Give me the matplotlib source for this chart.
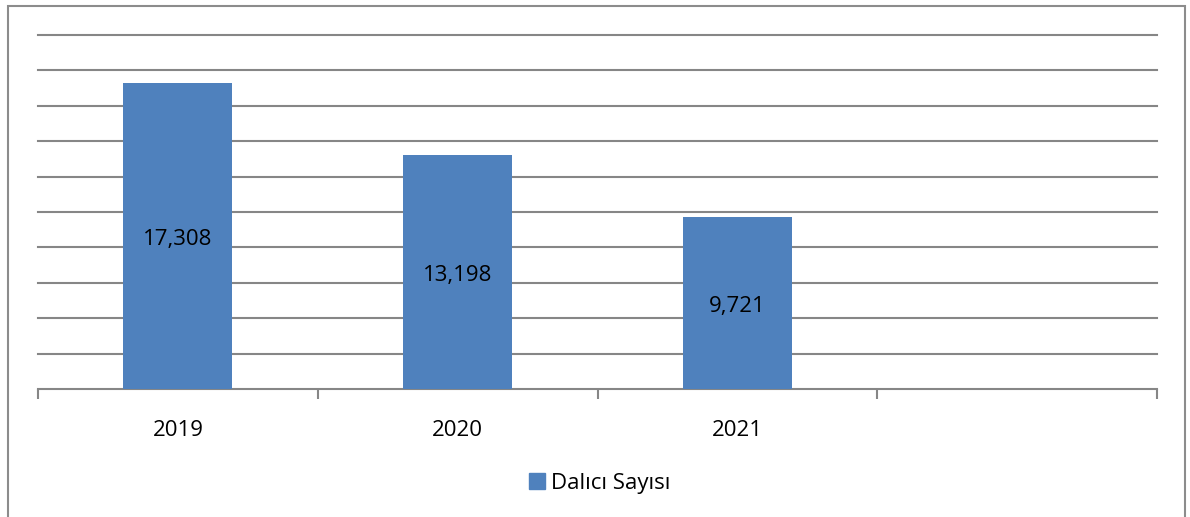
import matplotlib.pyplot as plt
from matplotlib.patches import Rectangle, Patch

years = ['2019', '2020', '2021', '']
divers = [17308, 13198, 9721, None]
labels = ['17,308', '13,198', '9,721']

plt.rcParams['font.family'] = ['Open Sans', 'DejaVu Sans']

fig = plt.figure(figsize=(11.9, 5.17), dpi=100)
ax = fig.add_axes([38/1190, 128/517, 1119/1190, 354/517])

blue = '#4f81bd'
grid = '#868686'

x = list(range(len(years)))
vals = [v for v in divers if v is not None]
bars = ax.bar(x[:len(vals)], vals, width=0.39, color=blue, zorder=3)
for b, lab in zip(bars, labels):
    ax.text(b.get_x() + b.get_width()/2, b.get_height()/2 - 200, lab,
            ha='center', va='center', fontsize=16, color='black', zorder=4)

ax.set_xlim(-0.5, 3.5)
ax.set_ylim(0, 20000)
ax.set_yticks(range(2000, 20001, 2000))
ax.yaxis.grid(True, color=grid, linewidth=1.5, zorder=0)
for gl in ax.get_ygridlines():
    gl.set_clip_on(False)
ax.tick_params(axis='y', left=False, labelleft=False)

ax.set_xticks([i + 0.5 for i in range(-1, 4)], minor=True)
ax.set_xticks(x)
ax.set_xticklabels(years, fontsize=16)
ax.tick_params(axis='x', which='major', length=0, pad=22)
ax.tick_params(axis='x', which='minor', length=7, color=grid, width=1.5)

for s in ['top', 'right', 'left']:
    ax.spines[s].set_visible(False)
ax.spines['bottom'].set_color(grid)
ax.spines['bottom'].set_linewidth(1.5)

fig.legend(handles=[Patch(color=blue, label='Dalıcı Sayısı')],
           loc='center', bbox_to_anchor=(600/1190, 1 - 483/517),
           frameon=False, fontsize=16, handlelength=0.7, handleheight=0.7,
           handletextpad=0.3)

fig.patches.append(Rectangle((8/1190, -0.01), 1177/1190, 1 - 6/517 + 0.01,
                             transform=fig.transFigure, fill=False,
                             edgecolor='#8c8c8c', linewidth=1.5))

fig.savefig('out.png', dpi=100)
